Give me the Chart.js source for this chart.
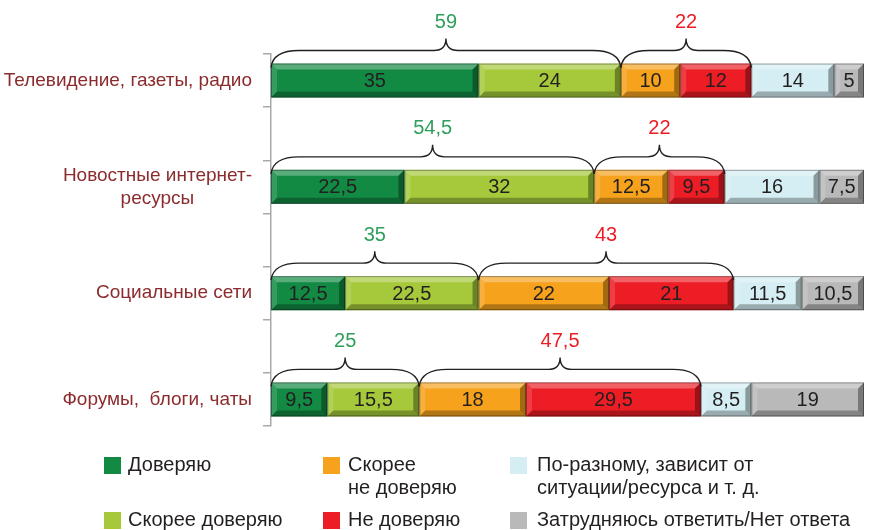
<!DOCTYPE html>
<html>
<head>
<meta charset="utf-8">
<script src="https://cdn.jsdelivr.net/npm/chart.js@4.4.1/dist/chart.umd.min.js"></script>
<style>
	body { margin: 0; background: #fff; }
	#wrap { width: 869px; height: 530px; }
</style>
</head>
<body>
<div id="wrap"><canvas id="myChart" width="869" height="530"></canvas></div>
<script>
//data
const categories = [
	["Телевидение, газеты, радио"],
	["Новостные интернет-", "ресурсы"],
	["Социальные сети"],
	["Форумы,  блоги, чаты"],
];
const seriesNames = [
	"Доверяю",
	"Скорее доверяю",
	"Скорее\nне доверяю",
	"Не доверяю",
	"По-разному, зависит от\nситуации/ресурса и т. д.",
	"Затрудняюсь ответить/Нет ответа",
];
const trust = [35, 22.5, 12.5, 9.5];
const ratherTrust = [24, 32, 22.5, 15.5];
const ratherDistrust = [10, 12.5, 22, 18];
const distrust = [12, 9.5, 21, 29.5];
const depends = [14, 16, 11.5, 8.5];
const noAnswer = [5, 7.5, 10.5, 19];
const seriesColors = ["#128a43", "#a5c93b", "#f6a21d", "#ec1d25", "#d5eef3", "#b9b9b9"];

const allSeries = [trust, ratherTrust, ratherDistrust, distrust, depends, noAnswer];

// empty slots between categories (like the original layout)
const slotLabels = [];
categories.forEach((c, i) => {
	slotLabels.push(c);
	if (i < categories.length - 1) slotLabels.push("");
});
const toSlots = (arr) => {
	const out = [];
	arr.forEach((v, i) => {
		out.push(v);
		if (i < arr.length - 1) out.push(null);
	});
	return out;
};

const fmt = (v) => String(v).replace(".", ",");

//bevel on bars
const bevel = {
	id: "bevel",
	afterDatasetsDraw(chart) {
		const { ctx } = chart;
		chart.data.datasets.forEach((ds, di) => {
			chart.getDatasetMeta(di).data.forEach((bar, i) => {
				if (ds.data[i] == null) return;
				const p = bar.getProps(["x", "y", "base", "height"], true);
				const l = Math.min(p.x, p.base), r = Math.max(p.x, p.base);
				const t = p.y - p.height / 2, b = p.y + p.height / 2;
				const s = 6;
				ctx.save();
				//top
				ctx.fillStyle = "rgba(255,255,255,0.30)";
				ctx.beginPath();
				ctx.moveTo(l, t); ctx.lineTo(r, t); ctx.lineTo(r - s, t + s); ctx.lineTo(l + s, t + s);
				ctx.fill();
				//left
				ctx.fillStyle = "rgba(255,255,255,0.15)";
				ctx.beginPath();
				ctx.moveTo(l, t); ctx.lineTo(l + s, t + s); ctx.lineTo(l + s, b - s); ctx.lineTo(l, b);
				ctx.fill();
				//bottom
				ctx.fillStyle = "rgba(0,0,0,0.28)";
				ctx.beginPath();
				ctx.moveTo(l, b); ctx.lineTo(r, b); ctx.lineTo(r - s, b - s); ctx.lineTo(l + s, b - s);
				ctx.fill();
				//right
				ctx.fillStyle = "rgba(0,0,0,0.35)";
				ctx.beginPath();
				ctx.moveTo(r, t); ctx.lineTo(r - s, t + s); ctx.lineTo(r - s, b - s); ctx.lineTo(r, b);
				ctx.fill();
				ctx.strokeStyle = "rgba(0,0,0,0.35)";
				ctx.lineWidth = 1;
				ctx.strokeRect(l + 0.5, t + 0.5, r - l - 1, b - t - 1);
				ctx.restore();
			});
		});
	},
};

//values inside bars + braces with totals
const labels = {
	id: "labels",
	afterDatasetsDraw(chart) {
		const { ctx, scales: { x } } = chart;
		ctx.save();
		ctx.font = "20px 'Liberation Sans', Arial, sans-serif";
		ctx.fillStyle = "#231f20";
		ctx.textAlign = "center";
		ctx.textBaseline = "middle";
		chart.data.datasets.forEach((ds, di) => {
			chart.getDatasetMeta(di).data.forEach((bar, i) => {
				if (ds.data[i] == null) return;
				const p = bar.getProps(["x", "y", "base"], true);
				ctx.fillText(fmt(ds.data[i]), (p.x + p.base) / 2, p.y + 1);
			});
		});

		// braces
		const meta0 = chart.getDatasetMeta(0);
		categories.forEach((c, ci) => {
			const slot = ci * 2;
			const bar = meta0.data[slot].getProps(["y", "height"], true);
			const top = bar.y - bar.height / 2;
			const tTrust = trust[ci] + ratherTrust[ci];
			const tDis = ratherDistrust[ci] + distrust[ci];
			drawBrace(ctx, x.getPixelForValue(0), x.getPixelForValue(tTrust), top);
			drawBrace(ctx, x.getPixelForValue(tTrust), x.getPixelForValue(tTrust + tDis), top);
			ctx.font = "20px 'Liberation Sans', Arial, sans-serif";
			ctx.fillStyle = "#2e9e5b";
			ctx.fillText(fmt(tTrust), x.getPixelForValue(tTrust / 2), top - 41);
			ctx.fillStyle = "#ec1d25";
			ctx.fillText(fmt(tDis), x.getPixelForValue(tTrust + tDis / 2), top - 41);
		});
		ctx.restore();
	},
};

function drawBrace(ctx, x0, x1, top) {
	const yEnd = top + 4, yLine = top - 13, yTip = top - 25;
	const xm = (x0 + x1) / 2;
	const r = Math.min(28, (x1 - x0) / 4);
	const r2 = 12;
	ctx.save();
	ctx.strokeStyle = "#231f20";
	ctx.lineWidth = 1.4;
	ctx.beginPath();
	ctx.moveTo(x0, yEnd);
	ctx.quadraticCurveTo(x0 + 2, yLine, x0 + r, yLine);
	ctx.lineTo(xm - r2, yLine);
	ctx.quadraticCurveTo(xm, yLine, xm, yTip);
	ctx.quadraticCurveTo(xm, yLine, xm + r2, yLine);
	ctx.lineTo(x1 - r, yLine);
	ctx.quadraticCurveTo(x1 - 2, yLine, x1, yEnd);
	ctx.stroke();
	ctx.restore();
}

//category labels, right aligned block, lines centred
const catLabels = {
	id: "catLabels",
	afterDraw(chart) {
		const { ctx, scales: { y } } = chart;
		ctx.save();
		ctx.font = "19px 'Liberation Sans', Arial, sans-serif";
		ctx.fillStyle = "#8c2b2e";
		ctx.textAlign = "center";
		ctx.textBaseline = "middle";
		const right = 252, lh = 23;
		categories.forEach((lines, ci) => {
			const yc = y.getPixelForValue(ci * 2);
			const w = Math.max(...lines.map((t) => ctx.measureText(t).width));
			lines.forEach((t, li) => {
				ctx.fillText(t, right - w / 2, yc + (li - (lines.length - 1) / 2) * lh);
			});
		});
		ctx.restore();
	},
};

//legend, 3 columns
const legendBox = {
	id: "legendBox",
	afterDraw(chart) {
		const { ctx } = chart;
		const colX = [104, 323, 510];
		const textX = [128, 348, 537];
		const rowY = [457, 512];
		ctx.save();
		ctx.font = "20px 'Liberation Sans', Arial, sans-serif";
		ctx.textAlign = "left";
		ctx.textBaseline = "middle";
		seriesNames.forEach((name, i) => {
			const col = Math.floor(i / 2), row = i % 2;
			ctx.fillStyle = seriesColors[i];
			ctx.fillRect(colX[col], rowY[row], 17, 17);
			ctx.fillStyle = "#231f20";
			name.split("\n").forEach((t, li) => {
				ctx.fillText(t, textX[col], rowY[row] + 8 + li * 23);
			});
		});
		ctx.restore();
	},
};

//config
const config = {
	type: "bar",
	data: {
		labels: slotLabels,
		datasets: allSeries.map((arr, i) => ({
			label: seriesNames[i],
			data: toSlots(arr),
			backgroundColor: seriesColors[i],
			borderWidth: 0,
			barPercentage: 1,
			categoryPercentage: 0.64,
		})),
	},
	options: {
		indexAxis: "y",
		responsive: false,
		animation: false,
		layout: {
			padding: { top: 54, bottom: 104, left: 0, right: 5 },
		},
		scales: {
			x: {
				stacked: true,
				min: 0,
				max: 100,
				display: false,
			},
			y: {
				stacked: true,
				offset: true,
				afterFit(scale) {
					scale.width = 271;
				},
				ticks: { display: false },
				grid: {
					offset: true,
					drawOnChartArea: false,
					drawTicks: true,
					tickLength: 8,
					color: "#a7a9ac",
					lineWidth: 1.5,
				},
				border: { display: true, color: "#a7a9ac", width: 1.5 },
			},
		},
		plugins: {
			legend: { display: false },
			tooltip: { enabled: false },
		},
	},
	plugins: [bevel, labels, catLabels, legendBox],
};

//render
const myChart = new Chart(document.getElementById("myChart"), config);
</script>
</body>
</html>
